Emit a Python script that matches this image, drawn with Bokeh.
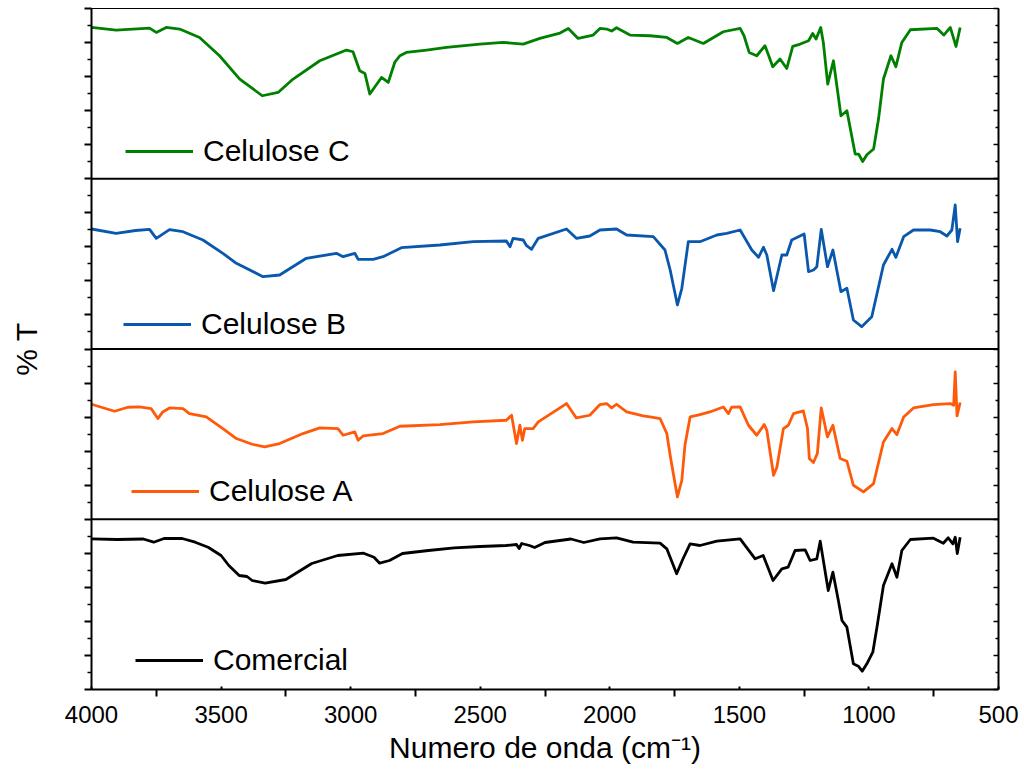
from bokeh.plotting import figure
from bokeh.models import (Range1d, FixedTicker, LinearAxis, Span, Legend, LegendItem,
                          CustomJSTickFormatter)
from bokeh.embed import file_html
from bokeh.resources import INLINE

# ---------------- data ----------------
# relative transmittance inside each panel (arbitrary units, 0 = panel bottom)
com_w = [4000, 3900, 3800, 3760, 3720, 3650, 3600, 3550, 3500, 3470, 3430, 3400, 3380, 3330,
         3250, 3150, 3050, 2950, 2910, 2888, 2850, 2800, 2700, 2600, 2500, 2400, 2360, 2350,
         2340, 2310, 2290, 2250, 2150, 2100, 2038, 1974, 1910, 1806, 1780, 1742, 1717, 1690,
         1652, 1587, 1497, 1439, 1408, 1370, 1336, 1312, 1285, 1246, 1227, 1201, 1188, 1157,
         1139, 1118, 1104, 1085, 1060, 1041, 1026, 1008, 985, 969, 944, 911, 892, 873, 840,
         751, 713, 694, 676, 667, 659, 648]
com_t = [150.7, 150, 150.5, 147.3, 151, 151, 147.3, 142.3, 134, 124, 114, 113, 109, 106.3,
         110, 126, 134, 136.3, 132.3, 126.3, 129, 136, 139, 141.7, 143, 144, 145, 141,
         146, 144, 142, 147, 150.5, 147, 150.7, 151.7, 147.3, 146.3, 140.7, 115.7, 131, 145.7,
         144, 148.3, 150.7, 130.7, 134, 109, 120.7, 122.3, 139, 139.7, 129, 130.7, 148.3, 99,
         117.3, 89, 69, 62.3, 25.7, 23.3, 18.3, 25.7, 37.3, 62.3, 104, 125.7, 112.3, 139, 150,
         151.3, 146.3, 151.7, 145.7, 152.3, 136, 152.3]

a_w = [4000, 3911, 3860, 3815, 3770, 3744, 3725, 3699, 3647, 3622, 3557, 3493, 3441, 3380,
       3332, 3274, 3184, 3119, 3049, 3029, 2984, 2971, 2952, 2875, 2810, 2656, 2527, 2399,
       2379, 2360, 2347, 2337, 2328, 2296, 2276, 2167, 2129, 2077, 2038, 2012, 1993, 1974,
       1935, 1871, 1845, 1806, 1780, 1765, 1739, 1722, 1710, 1690, 1652, 1614, 1562, 1542,
       1530, 1497, 1465, 1433, 1404, 1394, 1368, 1355, 1330, 1311, 1291, 1253, 1237, 1230,
       1214, 1199, 1184, 1160, 1139, 1111, 1085, 1060, 1021, 982, 944, 911, 892, 866, 828,
       751, 686, 673, 667, 660, 648]
a_t = [115, 108, 112, 112.3, 110.7, 100.7, 107.3, 111.3, 110.7, 105.7, 102.3, 90.7, 80.7, 75,
       72.3, 75.7, 85.7, 91.3, 90.7, 84, 87.3, 79, 83.3, 85.7, 93, 94.7, 97.3, 99,
       104, 75.7, 94, 79, 90.7, 90.7, 97.3, 115.7, 101.3, 104, 114.7, 115.7, 111.3, 115,
       107.3, 103.3, 102.3, 100.7, 85.7, 60.7, 22.3, 39, 74, 102.3, 104.7, 107.3, 112.3, 105.7,
       112, 112.3, 94, 84, 94.7, 89, 44, 52.3, 90.7, 94, 105.7, 108.3, 90.7, 60.7,
       56.7, 65.7, 111.3, 82.3, 94, 60.7, 58, 34, 27.3, 35.7, 77.3, 90.7, 84.7, 102.3, 111.3,
       114.7, 115.7, 114, 147.3, 103.3, 116.7]

b_w = [4000, 3905, 3830, 3776, 3750, 3699, 3647, 3570, 3493, 3441, 3338, 3274, 3171, 3055,
       3029, 2984, 2971, 2913, 2875, 2804, 2656, 2527, 2399, 2385, 2373, 2334, 2321, 2302,
       2276, 2167, 2129, 2077, 2038, 1974, 1935, 1832, 1787, 1767, 1739, 1722, 1697, 1652,
       1587, 1549, 1497, 1452, 1426, 1407, 1394, 1368, 1336, 1317, 1298, 1250, 1233, 1214,
       1201, 1184, 1160, 1139, 1108, 1085, 1060, 1028, 989, 944, 911, 896, 866, 828, 763,
       725, 699, 680, 667, 658, 648]
b_t = [120, 115.7, 118.5, 119.7, 110.7, 119.3, 117.3, 109, 95.7, 85.7, 72.3, 74, 90.7, 95.7,
       92.3, 95.7, 89.7, 89.7, 92.3, 101.3, 104, 107.3, 108, 102.3, 110.7, 109, 103.3, 99.7,
       110.7, 120, 110.7, 113, 119, 120, 114, 112.3, 99, 79, 44, 60.7, 107.3, 107.3,
       114, 115.7, 119, 99, 91.7, 101.7, 94, 58.3, 94, 94, 109, 115, 77.3, 79,
       82.3, 119.7, 82.3, 99, 57.3, 60.7, 29, 22.3, 32.3, 84, 99.7, 91.7, 112.3, 119, 119,
       117.3, 113, 119, 144, 107.3, 120.7]

c_w = [4000, 3905, 3776, 3750, 3712, 3660, 3583, 3506, 3428, 3341, 3280, 3222, 3119, 3016,
       2991, 2965, 2945, 2926, 2881, 2855, 2830, 2810, 2785, 2707, 2630, 2501, 2411, 2334,
       2270, 2192, 2160, 2122, 2064, 2038, 2012, 1993, 1974, 1922, 1845, 1780, 1739, 1697,
       1639, 1562, 1497, 1482, 1462, 1433, 1401, 1371, 1343, 1317, 1294, 1265, 1233, 1217,
       1204, 1186, 1176, 1159, 1137, 1108, 1085, 1053, 1040, 1024, 1008, 982, 963, 944, 915,
       896, 873, 840, 737, 711, 686, 664, 648]
c_t = [151.3, 148.7, 150.7, 146.3, 151.3, 149.7, 141.3, 123, 99.7, 83, 86.3, 99.7, 118, 128.7,
       127, 108, 105.3, 84.7, 101.3, 96.3, 116.3, 123, 126.3, 128.7, 131.3, 134.7, 136.3, 134.7,
       140.3, 145.7, 150.3, 140.3, 143.7, 150.3, 149.7, 147.7, 151, 143.7, 143, 141.3, 135.3, 141.3,
       135.3, 147, 150.3, 143, 126.3, 123, 133, 112, 119.7, 110.3, 132.3, 134.7, 138, 145.3,
       139.7, 151.3, 136.3, 94.7, 118, 63, 68, 24.7, 24.7, 17.3, 24, 29.7, 59.7, 99.7, 123,
       112, 136.3, 149, 150.3, 143.7, 151.3, 132.3, 151.3]

series_names = ["Comercial", "Celulose A", "Celulose B", "Celulose C"]
series_w = [com_w, a_w, b_w, c_w]
series_t = [com_t, a_t, b_t, c_t]
colors = ["#000000", "#ff5a0a", "#0a58ad", "#008000"]

x_ticks = [4000, 3500, 3000, 2500, 2000, 1500, 1000, 500]
x_minor = [3750, 3250, 2750, 2250, 1750, 1250, 750]

PANEL = 170.25  # height of one panel in data units
FONT = "Liberation Sans"

p = figure(width=1024, height=771, x_range=Range1d(4000, 500), y_range=Range1d(0, 4 * PANEL),
           output_backend="svg", toolbar_location=None,
           min_border_left=91, min_border_right=26, min_border_top=8, min_border_bottom=82)
p.grid.visible = False
p.outline_line_color = "black"
p.outline_line_width = 1
p.background_fill_color = "white"
p.border_fill_color = "white"

renderers = []
for i, (w, t, c) in enumerate(zip(series_w, series_t, colors)):
    off = i * PANEL
    r = p.line(x=w, y=[v + off for v in t], line_color=c, line_width=2.8, line_join="round")
    renderers.append(r)

# panel separators
for k in range(1, 4):
    p.add_layout(Span(location=k * PANEL, dimension="width", line_color="black", line_width=2))

# x axis
xa = p.xaxis[0]
xa.ticker = FixedTicker(ticks=x_ticks, minor_ticks=x_minor)
xa.axis_line_width = 2
xa.axis_line_color = "black"
xa.major_tick_in = 3
xa.major_tick_out = 0
xa.minor_tick_in = 0
xa.minor_tick_out = 7
xa.major_tick_line_width = 2
xa.minor_tick_line_width = 2
xa.major_label_text_font = FONT
xa.major_label_text_font_size = "24px"
xa.major_label_text_color = "black"
xa.major_label_standoff = 9
xa.axis_label = "Numero de onda (cm\u207b\u00b9)"
xa.axis_label_text_font = FONT
xa.axis_label_text_font_style = "normal"
xa.axis_label_text_font_size = "30px"
xa.axis_label_text_color = "black"
xa.axis_label_standoff = 5

# y axis (ticks only, no tick labels)
y_major = [k * PANEL / 5 for k in range(21)]
y_minor = [(k + 0.5) * PANEL / 5 for k in range(20)]
blank = CustomJSTickFormatter(code="return ''")
ya = p.yaxis[0]
ya.ticker = FixedTicker(ticks=y_major, minor_ticks=y_minor)
ya.formatter = blank
ya.axis_line_width = 2
ya.axis_line_color = "black"
ya.major_tick_in = 0
ya.major_tick_out = 7
ya.minor_tick_in = 0
ya.minor_tick_out = 4
ya.major_tick_line_width = 2
ya.minor_tick_line_width = 1.5
ya.major_label_standoff = 0
ya.axis_label = "% T"
ya.axis_label_text_font = FONT
ya.axis_label_text_font_style = "normal"
ya.axis_label_text_font_size = "30px"
ya.axis_label_text_color = "black"
ya.axis_label_standoff = 42

ra = LinearAxis(ticker=FixedTicker(ticks=y_major, minor_ticks=y_minor), formatter=blank,
                major_tick_in=5, major_tick_out=0,
                minor_tick_in=3, minor_tick_out=0, axis_line_width=2,
                major_tick_line_width=1.5, minor_tick_line_width=1.5, major_label_standoff=0)
p.add_layout(ra, "right")

# one legend per panel
leg_pos = [(44, 12), (40, 181), (32, 348), (34, 521)]
for name, r, pos in zip(series_names, renderers, leg_pos):
    leg = Legend(items=[LegendItem(label=name, renderers=[r])], location=pos,
                 padding=0, margin=0, spacing=0, border_line_color=None,
                 background_fill_alpha=0, glyph_width=68, glyph_height=30,
                 label_height=30, label_standoff=10, label_text_font=FONT,
                 label_text_font_size="30px", label_text_color="black",
                 label_text_baseline="middle")
    p.add_layout(leg)

open("out.html", "w").write(file_html(p, INLINE))
